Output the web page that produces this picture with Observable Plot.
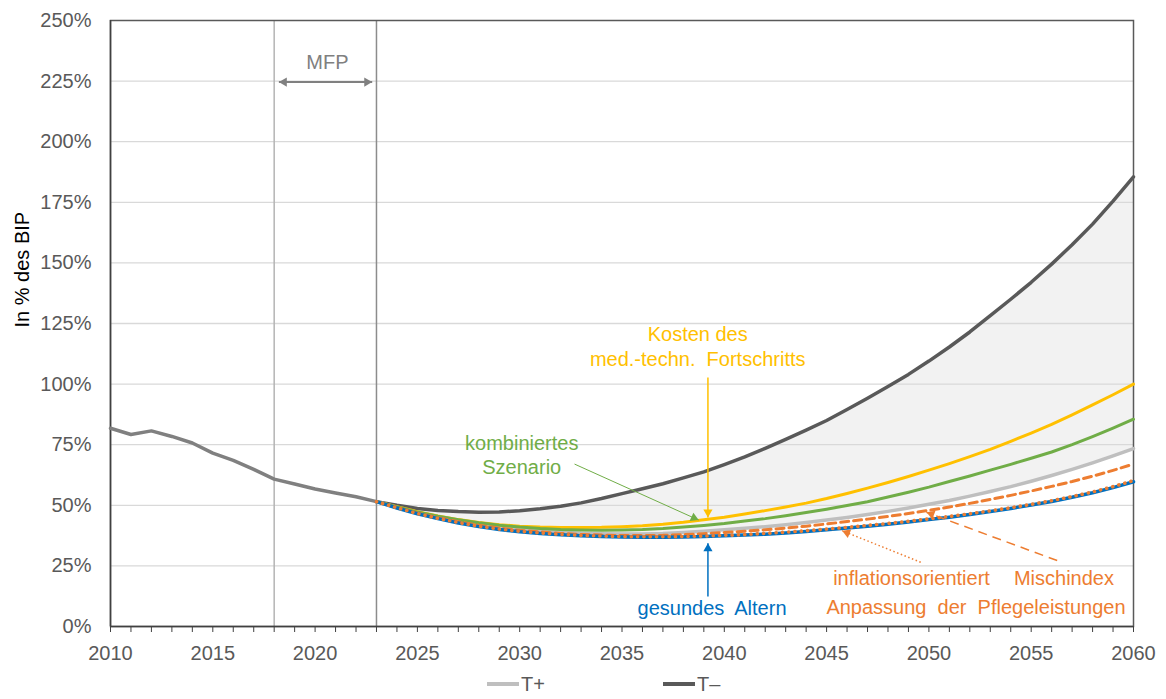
<!DOCTYPE html>
<html><head><meta charset="utf-8">
<script src="https://cdn.jsdelivr.net/npm/d3@7"></script>
<script src="https://cdn.jsdelivr.net/npm/@observablehq/plot@0.6"></script>
<style>
body{margin:0;background:#fff;font-family:"Liberation Sans",Arial,sans-serif;overflow:hidden;}
#chart svg{display:block;}
#legend{position:relative;width:1166px;height:27px;}
.item{position:absolute;top:-2px;height:27px;display:flex;align-items:center;font-size:20px;line-height:20px;color:#595959;}
.sw{width:32px;height:4px;margin-right:2px;}
</style></head><body><div id="chart"></div><div id="legend"></div>
<script>
// ---- data ----
const histYears = d3.range(2010, 2024);
const histValues = [81.8, 79.2, 80.7, 78.4, 75.7, 71.5, 68.5, 64.8, 60.8, 58.8, 56.7, 55.1, 53.5, 51.5];
const projYears = d3.range(2023, 2061);
const tMinus = [51.5, 50.0, 48.7, 47.9, 47.4, 47.1, 47.2, 47.8, 48.6, 49.6, 51.0, 52.8, 54.8, 56.8, 58.9, 61.3, 63.8, 66.8, 70.0, 73.5, 77.2, 81.0, 85.0, 89.5, 94.2, 99.0, 104.0, 109.5, 115.3, 121.5, 128.2, 135.0, 142.0, 149.5, 157.5, 166.0, 175.5, 185.5];
const tPlus = [51.5, 49.1, 47.0, 45.1, 43.5, 42.2, 41.0, 40.1, 39.4, 38.9, 38.5, 38.3, 38.2, 38.2, 38.4, 38.8, 39.3, 39.9, 40.5, 41.2, 42.0, 42.9, 43.9, 45.0, 46.2, 47.5, 48.9, 50.4, 52.0, 53.8, 55.7, 57.7, 59.9, 62.3, 64.8, 67.5, 70.4, 73.4];
const medTech = [51.5, 49.4, 47.4, 45.6, 44.1, 42.9, 42.0, 41.4, 41.0, 40.8, 40.8, 40.9, 41.2, 41.6, 42.2, 43.0, 44.0, 45.1, 46.4, 47.8, 49.3, 50.9, 52.8, 54.9, 57.1, 59.4, 61.9, 64.5, 67.2, 70.1, 73.1, 76.4, 79.8, 83.4, 87.3, 91.4, 95.6, 100.0];
const kombiniert = [51.5, 49.3, 47.2, 45.5, 44.0, 42.8, 41.8, 41.0, 40.4, 40.0, 39.8, 39.7, 39.8, 40.0, 40.4, 41.0, 41.7, 42.5, 43.5, 44.5, 45.7, 47.0, 48.4, 49.9, 51.5, 53.4, 55.4, 57.5, 59.8, 62.1, 64.5, 66.9, 69.4, 72.0, 75.0, 78.3, 81.8, 85.5];
const mischindex = [51.5, 49.0, 46.8, 44.9, 43.2, 41.8, 40.6, 39.7, 39.0, 38.4, 38.0, 37.7, 37.5, 37.5, 37.6, 37.9, 38.3, 38.8, 39.3, 39.9, 40.6, 41.4, 42.3, 43.3, 44.3, 45.4, 46.6, 47.9, 49.3, 50.8, 52.4, 54.1, 55.9, 57.8, 59.8, 62.0, 64.4, 67.0];
const gesund = [51.5, 48.9, 46.5, 44.5, 42.7, 41.2, 40.0, 39.1, 38.4, 37.8, 37.4, 37.1, 36.9, 36.8, 36.8, 36.9, 37.1, 37.4, 37.7, 38.1, 38.6, 39.2, 39.9, 40.6, 41.4, 42.2, 43.1, 44.1, 45.1, 46.2, 47.4, 48.7, 50.1, 51.6, 53.3, 55.2, 57.3, 59.7];
const inflation = [51.5, 49.0, 46.6, 44.6, 42.9, 41.4, 40.2, 39.3, 38.6, 38.0, 37.6, 37.3, 37.1, 37.0, 37.0, 37.1, 37.3, 37.6, 37.9, 38.4, 38.9, 39.5, 40.2, 40.9, 41.7, 42.5, 43.4, 44.4, 45.4, 46.5, 47.7, 49.0, 50.4, 51.9, 53.6, 55.5, 57.7, 60.2];
const yTicks = d3.range(0, 251, 25);
const xTicks = d3.range(2010, 2061);
const mfpYears = [2018, 2023];
const legendItems = ["T+", "T\u2013"];

// annotations (data units)
const labels = [
  {x: 2020.6, y: 232.5, text: "MFP", color: "#808080"},
  {x: 2038.7, y: 120.3, text: "Kosten des", color: "#FFC000"},
  {x: 2038.7, y: 110.2, text: "med.-techn.\u00A0 Fortschritts", color: "#FFC000"},
  {x: 2030.1, y: 75.4, text: "kombiniertes", color: "#70AD47"},
  {x: 2030.1, y: 65.5, text: "Szenario", color: "#70AD47"},
  {x: 2039.4, y: 7.4, text: "gesundes\u00A0 Altern", color: "#0070C0"},
  {x: 2049.15, y: 19.8, text: "inflationsorientiert", color: "#ED7D31"},
  {x: 2056.6, y: 19.8, text: "Mischindex", color: "#ED7D31"},
  {x: 2052.3, y: 7.8, text: "Anpassung\u00A0 der\u00A0 Pflegeleistungen", color: "#ED7D31"}
];
const arrows = [
  {x1: 2018.23, y1: 224.6, x2: 2022.79, y2: 224.6, color: "#808080", width: 2, dash: null, both: true},
  {x1: 2039.2, y1: 102.7, x2: 2039.2, y2: 45.0, color: "#FFC000", width: 1.5, dash: null},
  {x1: 2032.68, y1: 67.0, x2: 2038.75, y2: 43.9, color: "#70AD47", width: 1, dash: null},
  {x1: 2039.2, y1: 12.4, x2: 2039.2, y2: 34.3, color: "#0070C0", width: 1.5, dash: null},
  {x1: 2049.6, y1: 26.5, x2: 2045.76, y2: 39.5, color: "#ED7D31", width: 1.5, dash: "1.5,2.5"},
  {x1: 2056.27, y1: 27.2, x2: 2049.88, y2: 47.1, color: "#ED7D31", width: 1.5, dash: "9,6"}
];

// ---- layout ----
const W = 1166, H = 672, mL = 110, mR = 33, mT = 20, mB = 46;
const xs = Plot.scale({x: {domain: [2010, 2060], range: [mL, W - mR]}});
const ys = Plot.scale({y: {domain: [0, 250], range: [H - mB, mT]}});
const headR = 3.4;
const heads = [];
function addHead(x1, y1, x2, y2, color) {
  const px1 = xs.apply(x1), py1 = ys.apply(y1), px2 = xs.apply(x2), py2 = ys.apply(y2);
  const dx = px2 - px1, dy = py2 - py1, L = Math.hypot(dx, dy);
  const off = 1.555 * headR;
  heads.push({x: xs.invert(px2 - dx / L * off), y: ys.invert(py2 - dy / L * off),
    rotate: Math.atan2(dx, -dy) * 180 / Math.PI, color});
}
for (const a of arrows) {
  addHead(a.x1, a.y1, a.x2, a.y2, a.color);
  if (a.both) addHead(a.x2, a.y2, a.x1, a.y1, a.color);
}

const ser = (years, vals) => years.map((year, i) => ({year, v: vals[i]}));
const band = projYears.map((year, i) => ({year, lo: tPlus[i], hi: tMinus[i]}));

const lineSpecs = [
  {vals: tMinus, stroke: "#595959", w: 3.5},
  {vals: tPlus, stroke: "#BFBFBF", w: 3.5},
  {vals: medTech, stroke: "#FFC000", w: 3},
  {vals: kombiniert, stroke: "#70AD47", w: 3},
  {vals: mischindex, stroke: "#ED7D31", w: 3, dash: "8,5"},
  {vals: gesund, stroke: "#0070C0", w: 3.5},
  {vals: inflation, stroke: "#ED7D31", w: 3.6, dash: "0.1,6.2", cap: "round"}
];

const plot = Plot.plot({
  width: W, height: H, marginLeft: mL, marginRight: mR, marginTop: mT, marginBottom: mB,
  x: {domain: [2010, 2060], label: null},
  y: {domain: [0, 250], label: null},
  color: {type: "identity"},
  style: {fontFamily: "'Liberation Sans', Arial, sans-serif", fontSize: "20px", background: "#fff", overflow: "visible"},
  marks: [
    Plot.areaY(band, {x: "year", y1: "lo", y2: "hi", fill: "#F2F2F2"}),
    Plot.ruleY(yTicks.filter(d => d > 0 && d < 250), {stroke: "#D9D9D9", strokeWidth: 1.3}),
    Plot.ruleX([mfpYears[0]], {stroke: "#B4B4B4", strokeWidth: 1.5}),
    Plot.ruleX([mfpYears[1]], {stroke: "#8C8C8C", strokeWidth: 1.5}),
    Plot.frame({stroke: "#595959", strokeWidth: 1.5}),
    Plot.ruleX([2010], {stroke: "#404040", strokeWidth: 1.5}),
    Plot.ruleY([0], {stroke: "#404040", strokeWidth: 1.5}),
    Plot.axisY({ticks: yTicks, tickFormat: d => d + "%", tickSize: 0, tickPadding: 19, color: "#595959", fontSize: 20, label: null}),
    Plot.axisX({ticks: xTicks, tickFormat: d => d % 5 === 0 ? String(d) : "", tickSize: 6, tickPadding: 13, stroke: "#404040", fill: "#595959", fontSize: 20, label: null}),
    Plot.text(["In % des BIP"], {frameAnchor: "left", rotate: -90, dx: -88, dy: 4, fill: "black", fontSize: 20}),
    Plot.line(ser(histYears, histValues), {x: "year", y: "v", stroke: "#808080", strokeWidth: 3.5}),
    ...lineSpecs.map(s => Plot.line(ser(projYears, s.vals), {x: "year", y: "v", stroke: s.stroke, strokeWidth: s.w, strokeDasharray: s.dash, strokeLinecap: s.cap})),
    ...arrows.map(a => Plot.link([a], {x1: "x1", y1: "y1", x2: "x2", y2: "y2", stroke: a.color, strokeWidth: a.width, strokeDasharray: a.dash})),
    Plot.dot(heads, {x: "x", y: "y", r: headR, symbol: "triangle", fill: "color", stroke: "none", rotate: "rotate"}),
    Plot.text(labels, {x: "x", y: "y", text: "text", fill: "color", fontSize: 20, textAnchor: "middle"})
  ]
});
document.getElementById("chart").appendChild(plot);

// legend
const legendColors = ["#BFBFBF", "#595959"];
const legendLeft = [487, 663];
const lg = document.getElementById("legend");
legendItems.forEach((t, i) => {
  const d = document.createElement("div");
  d.className = "item";
  d.style.left = legendLeft[i] + "px";
  d.innerHTML = `<span class="sw" style="background:${legendColors[i]}"></span><span>${t}</span>`;
  lg.appendChild(d);
});
</script></body></html>
